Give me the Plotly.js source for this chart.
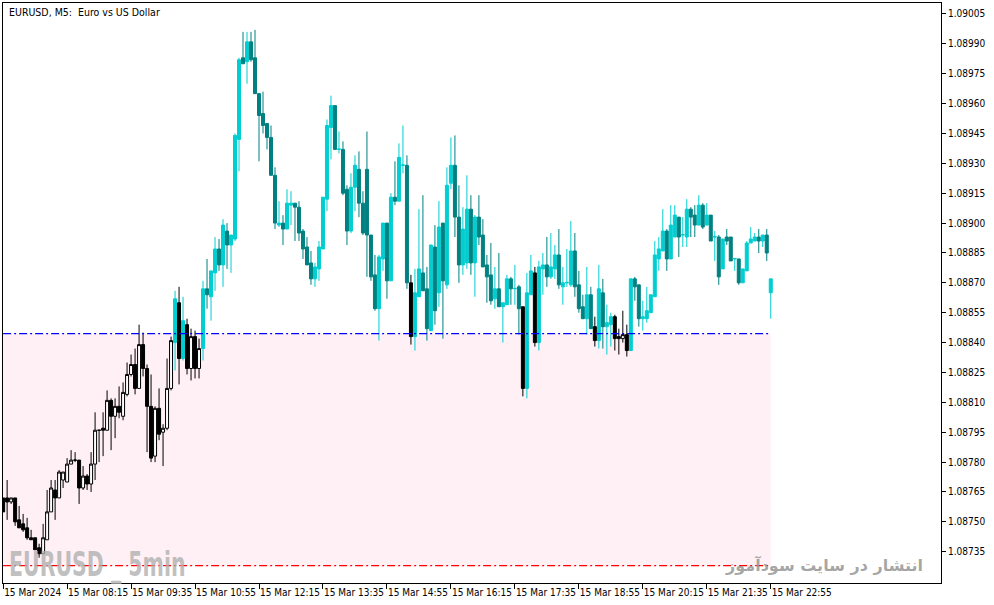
<!DOCTYPE html>
<html>
<head>
<meta charset="utf-8">
<script src="https://cdn.plot.ly/plotly-3.0.1.min.js"></script>
<style>
  html, body { margin: 0; padding: 0; background: #fff; }
  #chart { width: 994px; height: 605px; }
</style>
</head>
<body>
<div id="chart"></div>
<script>
// EURUSD M5 candles, 15 Mar 2024 06:55 .. 22:55 (one bar every 5 minutes)
const START_TIME = "2024-03-15T06:55:00Z";
const BAR_MINUTES = 5;

const open = [
	1.08762, 1.08762, 1.08760, 1.08762, 1.08751, 1.08749, 1.08747, 1.08742, 1.08742, 1.08737,
	1.08734, 1.08741, 1.08755, 1.08766, 1.08762, 1.08771, 1.08770, 1.08779, 1.08781, 1.08781,
	1.08767, 1.08773, 1.08769, 1.08779, 1.08796, 1.08797, 1.08796, 1.08811, 1.08803, 1.08808,
	1.08803, 1.08814, 1.08824, 1.08829, 1.08817, 1.08839, 1.08827, 1.08808, 1.08783, 1.08807,
	1.08795, 1.08797, 1.08817, 1.08840, 1.08860, 1.08832, 1.08849, 1.08827, 1.08843, 1.08827,
	1.08837, 1.08867, 1.08863, 1.08875, 1.08887, 1.08879, 1.08896, 1.08889, 1.08892, 1.08942,
	1.08983, 1.08981, 1.08991, 1.08983, 1.08965, 1.08955, 1.08950, 1.08943, 1.08924, 1.08899,
	1.08900, 1.08897, 1.08909, 1.08910, 1.08908, 1.08896, 1.08888, 1.08880, 1.08872, 1.08877,
	1.08887, 1.08912, 1.08948, 1.08959, 1.08937, 1.08937, 1.08917, 1.08896, 1.08918, 1.08927,
	1.08910, 1.08927, 1.08894, 1.08874, 1.08857, 1.08882, 1.08900, 1.08871, 1.08913, 1.08911,
	1.08929, 1.08929, 1.08870, 1.08843, 1.08863, 1.08875, 1.08867, 1.08846, 1.08888, 1.08865,
	1.08900, 1.08869, 1.08920, 1.08929, 1.08903, 1.08879, 1.08880, 1.08907, 1.08880, 1.08903,
	1.08894, 1.08879, 1.08874, 1.08862, 1.08867, 1.08858, 1.08859, 1.08872, 1.08867, 1.08868,
	1.08858, 1.08817, 1.08864, 1.08875, 1.08840, 1.08877, 1.08879, 1.08873, 1.08877, 1.08884,
	1.08868, 1.08870, 1.08869, 1.08886, 1.08869, 1.08858, 1.08852, 1.08864, 1.08848, 1.08841,
	1.08865, 1.08848, 1.08849, 1.08853, 1.08843, 1.08842, 1.08844, 1.08836, 1.08872, 1.08869,
	1.08852, 1.08852, 1.08855, 1.08863, 1.08882, 1.08886, 1.08896, 1.08882, 1.08893, 1.08903,
	1.08894, 1.08893, 1.08907, 1.08904, 1.08899, 1.08909, 1.08899, 1.08904, 1.08893, 1.08893,
	1.08877, 1.08893, 1.08893, 1.08882, 1.08882, 1.08870, 1.08876, 1.08890, 1.08891, 1.08893,
	1.08891, 1.08894, 1.08865,
];
const high = [
	1.08762, 1.08771, 1.08762, 1.08762, 1.08758, 1.08754, 1.08752, 1.08746, 1.08742, 1.08739,
	1.08749, 1.08766, 1.08771, 1.08771, 1.08776, 1.08775, 1.08782, 1.08786, 1.08785, 1.08781,
	1.08778, 1.08774, 1.08785, 1.08805, 1.08796, 1.08805, 1.08816, 1.08812, 1.08812, 1.08818,
	1.08820, 1.08830, 1.08834, 1.08837, 1.08849, 1.08845, 1.08829, 1.08824, 1.08808, 1.08817,
	1.08799, 1.08832, 1.08843, 1.08866, 1.08868, 1.08863, 1.08852, 1.08847, 1.08846, 1.08842,
	1.08871, 1.08882, 1.08876, 1.08893, 1.08892, 1.08902, 1.08900, 1.08894, 1.08945, 1.08983,
	1.08996, 1.08996, 1.08996, 1.08997, 1.08965, 1.08966, 1.08950, 1.08949, 1.08928, 1.08911,
	1.08904, 1.08917, 1.08916, 1.08910, 1.08911, 1.08897, 1.08893, 1.08886, 1.08880, 1.08891,
	1.08913, 1.08952, 1.08964, 1.08959, 1.08946, 1.08941, 1.08919, 1.08925, 1.08934, 1.08936,
	1.08916, 1.08946, 1.08894, 1.08884, 1.08884, 1.08900, 1.08900, 1.08915, 1.08931, 1.08940,
	1.08949, 1.08934, 1.08874, 1.08877, 1.08907, 1.08914, 1.08878, 1.08889, 1.08899, 1.08911,
	1.08900, 1.08928, 1.08943, 1.08944, 1.08919, 1.08908, 1.08924, 1.08914, 1.08904, 1.08914,
	1.08902, 1.08884, 1.08890, 1.08878, 1.08885, 1.08860, 1.08874, 1.08873, 1.08879, 1.08869,
	1.08858, 1.08875, 1.08884, 1.08878, 1.08881, 1.08885, 1.08893, 1.08895, 1.08889, 1.08897,
	1.08878, 1.08887, 1.08901, 1.08895, 1.08876, 1.08864, 1.08878, 1.08868, 1.08853, 1.08879,
	1.08872, 1.08859, 1.08855, 1.08854, 1.08847, 1.08856, 1.08849, 1.08872, 1.08873, 1.08869,
	1.08861, 1.08868, 1.08864, 1.08891, 1.08893, 1.08907, 1.08897, 1.08909, 1.08909, 1.08903,
	1.08903, 1.08912, 1.08908, 1.08909, 1.08914, 1.08910, 1.08910, 1.08904, 1.08896, 1.08894,
	1.08892, 1.08897, 1.08893, 1.08882, 1.08882, 1.08877, 1.08891, 1.08898, 1.08895, 1.08897,
	1.08894, 1.08897, 1.08872,
];
const low = [
	1.08755, 1.08751, 1.08759, 1.08748, 1.08747, 1.08745, 1.08741, 1.08741, 1.08736, 1.08732,
	1.08734, 1.08741, 1.08755, 1.08751, 1.08762, 1.08767, 1.08770, 1.08779, 1.08780, 1.08759,
	1.08766, 1.08766, 1.08765, 1.08771, 1.08780, 1.08783, 1.08796, 1.08786, 1.08792, 1.08802,
	1.08801, 1.08813, 1.08823, 1.08814, 1.08817, 1.08823, 1.08785, 1.08780, 1.08780, 1.08791,
	1.08778, 1.08796, 1.08816, 1.08826, 1.08819, 1.08831, 1.08824, 1.08821, 1.08822, 1.08822,
	1.08831, 1.08857, 1.08851, 1.08866, 1.08876, 1.08868, 1.08877, 1.08875, 1.08891, 1.08926,
	1.08980, 1.08970, 1.08981, 1.08965, 1.08931, 1.08945, 1.08937, 1.08924, 1.08897, 1.08898,
	1.08889, 1.08897, 1.08899, 1.08891, 1.08891, 1.08882, 1.08879, 1.08869, 1.08868, 1.08871,
	1.08887, 1.08906, 1.08932, 1.08937, 1.08935, 1.08914, 1.08889, 1.08895, 1.08906, 1.08903,
	1.08894, 1.08873, 1.08871, 1.08856, 1.08841, 1.08876, 1.08862, 1.08871, 1.08909, 1.08911,
	1.08925, 1.08867, 1.08839, 1.08836, 1.08863, 1.08866, 1.08841, 1.08846, 1.08849, 1.08858,
	1.08842, 1.08867, 1.08917, 1.08893, 1.08870, 1.08874, 1.08877, 1.08874, 1.08863, 1.08889,
	1.08878, 1.08860, 1.08859, 1.08857, 1.08858, 1.08840, 1.08859, 1.08859, 1.08859, 1.08844,
	1.08813, 1.08812, 1.08864, 1.08838, 1.08836, 1.08864, 1.08868, 1.08872, 1.08872, 1.08867,
	1.08859, 1.08868, 1.08868, 1.08863, 1.08855, 1.08852, 1.08844, 1.08847, 1.08838, 1.08837,
	1.08837, 1.08834, 1.08838, 1.08836, 1.08834, 1.08840, 1.08833, 1.08836, 1.08861, 1.08848,
	1.08846, 1.08850, 1.08855, 1.08863, 1.08876, 1.08886, 1.08876, 1.08882, 1.08893, 1.08883,
	1.08888, 1.08888, 1.08893, 1.08893, 1.08899, 1.08897, 1.08899, 1.08891, 1.08881, 1.08869,
	1.08877, 1.08889, 1.08881, 1.08876, 1.08869, 1.08870, 1.08876, 1.08890, 1.08891, 1.08885,
	1.08888, 1.08881, 1.08852,
];
const close = [
	1.08755, 1.08760, 1.08762, 1.08750, 1.08747, 1.08746, 1.08742, 1.08741, 1.08736, 1.08734,
	1.08742, 1.08755, 1.08767, 1.08762, 1.08775, 1.08775, 1.08779, 1.08781, 1.08781, 1.08767,
	1.08773, 1.08769, 1.08779, 1.08796, 1.08796, 1.08796, 1.08811, 1.08803, 1.08808, 1.08805,
	1.08815, 1.08824, 1.08829, 1.08817, 1.08839, 1.08827, 1.08808, 1.08782, 1.08807, 1.08794,
	1.08797, 1.08817, 1.08841, 1.08862, 1.08832, 1.08851, 1.08827, 1.08843, 1.08827, 1.08837,
	1.08867, 1.08864, 1.08876, 1.08887, 1.08879, 1.08899, 1.08889, 1.08894, 1.08944, 1.08982,
	1.08980, 1.08991, 1.08982, 1.08965, 1.08954, 1.08949, 1.08943, 1.08924, 1.08900, 1.08900,
	1.08897, 1.08910, 1.08910, 1.08908, 1.08895, 1.08887, 1.08879, 1.08872, 1.08878, 1.08888,
	1.08913, 1.08949, 1.08959, 1.08937, 1.089372, 1.08915, 1.08896, 1.08918, 1.08929, 1.08910,
	1.08895, 1.08894, 1.08873, 1.08857, 1.08883, 1.08900, 1.08871, 1.08913, 1.08911, 1.08933,
	1.089292, 1.08870, 1.08843, 1.08865, 1.08877, 1.08866, 1.08847, 1.08889, 1.08856, 1.08898,
	1.08871, 1.08919, 1.08929, 1.08903, 1.08879, 1.08897, 1.08907, 1.08880, 1.08903, 1.08893,
	1.08878, 1.08873, 1.08861, 1.08867, 1.08858, 1.08860, 1.08872, 1.08867, 1.088672, 1.08857,
	1.08817, 1.08865, 1.08876, 1.08840, 1.08878, 1.08879, 1.08873, 1.08878, 1.08884, 1.08869,
	1.08870, 1.088702, 1.08886, 1.08868, 1.08857, 1.08852, 1.08864, 1.08847, 1.08841, 1.08867,
	1.08848, 1.08850, 1.08853, 1.08842, 1.08842, 1.08844, 1.08836, 1.08872, 1.08868, 1.08852,
	1.08853, 1.08856, 1.08864, 1.08884, 1.08887, 1.08896, 1.08882, 1.08899, 1.08904, 1.08893,
	1.088942, 1.08907, 1.08903, 1.08899, 1.08909, 1.08898, 1.08904, 1.08891, 1.088932, 1.08873,
	1.08892, 1.08891, 1.08881, 1.088822, 1.08870, 1.08877, 1.08890, 1.08892, 1.08893, 1.08891,
	1.08894, 1.08885, 1.08872,
];

// levels drawn by the zone indicator
const ZONE_HIGH = 1.088445;
const ZONE_LOW = 1.08728;

const priceTicks = [
	1.08735, 1.0875, 1.08765, 1.0878, 1.08795, 1.0881, 1.08825, 1.0884, 1.08855, 1.0887,
	1.08885, 1.089, 1.08915, 1.0893, 1.08945, 1.0896, 1.08975, 1.0899, 1.09005,
];

const tickTimes = [
	"2024-03-15 06:55", "2024-03-15 08:15", "2024-03-15 09:35", "2024-03-15 10:55",
	"2024-03-15 12:15", "2024-03-15 13:35", "2024-03-15 14:55", "2024-03-15 16:15",
	"2024-03-15 17:35", "2024-03-15 18:55", "2024-03-15 20:15", "2024-03-15 21:35",
	"2024-03-15 22:55",
];
const tickLabels = [
	"15 Mar 2024", "15 Mar 08:15", "15 Mar 09:35", "15 Mar 10:55",
	"15 Mar 12:15", "15 Mar 13:35", "15 Mar 14:55", "15 Mar 16:15",
	"15 Mar 17:35", "15 Mar 18:55", "15 Mar 20:15", "15 Mar 21:35",
	"15 Mar 22:55",
];

const FONT = "Tahoma, 'DejaVu Sans Condensed', 'Liberation Sans', sans-serif";

const startMs = Date.parse(START_TIME);
const times = open.map((_, i) =>
	new Date(startMs + i * BAR_MINUTES * 60000).toISOString().slice(0, 19).replace("T", " "),
);

function pick(idx) {
	return {
		x: idx.map(i => times[i]),
		open: idx.map(i => open[i]),
		high: idx.map(i => high[i]),
		low: idx.map(i => low[i]),
		close: idx.map(i => close[i]),
	};
}

// bars closing inside the zone are drawn black & white, the rest in colour
const above = [];
const inside = [];
close.forEach((c, i) => (c >= ZONE_HIGH ? above : inside).push(i));

const candleBase = {
	type: "candlestick",
	line: { width: 1 },
	whiskerwidth: 0,
	hoverinfo: "skip",
	showlegend: false,
};

const data = [
	{
		...candleBase,
		...pick(above),
		increasing: { line: { color: "#00CED1", width: 1 }, fillcolor: "#00CED1" },
		decreasing: { line: { color: "#008080", width: 1 }, fillcolor: "#008080" },
	},
	{
		...candleBase,
		...pick(inside),
		increasing: { line: { color: "#000000", width: 1 }, fillcolor: "#FFFFFF" },
		decreasing: { line: { color: "#000000", width: 1 }, fillcolor: "#000000" },
	},
];

const first = times[0];
const last = times[times.length - 1];
const dashDot = "8px,3px,2px,3px";

const layout = {
	width: 994,
	height: 605,
	margin: { l: 3, r: 53, t: 3, b: 22 },
	paper_bgcolor: "#ffffff",
	plot_bgcolor: "#ffffff",
	hovermode: false,
	showlegend: false,
	boxgap: 0.12,
	boxgroupgap: 0.15,
	font: { family: FONT, size: 10, color: "#000" },
	xaxis: {
		type: "date",
		range: ["2024-03-15 06:54:50", "2024-03-16 02:27:55"],
		rangeslider: { visible: false },
		showgrid: false,
		zeroline: false,
		showline: true,
		mirror: true,
		linecolor: "#000",
		linewidth: 1,
		ticks: "outside",
		ticklen: 5,
		tickcolor: "#000",
		tickmode: "array",
		tickvals: tickTimes,
		ticktext: tickLabels,
		tickangle: 0,
		ticklabelposition: "outside right",
		tickfont: { family: FONT, size: 10, color: "#000" },
		fixedrange: true,
	},
	yaxis: {
		side: "right",
		range: [1.087193, 1.090105],
		showgrid: false,
		zeroline: false,
		showline: true,
		mirror: true,
		linecolor: "#000",
		linewidth: 1,
		ticks: "outside",
		ticklen: 4,
		tickcolor: "#000",
		tickmode: "array",
		tickvals: priceTicks,
		tickformat: ".5f",
		tickfont: { family: FONT, size: 10, color: "#000" },
		fixedrange: true,
	},
	shapes: [
		{
			type: "rect", xref: "x", yref: "y", layer: "below",
			x0: first, x1: last, y0: ZONE_LOW, y1: ZONE_HIGH,
			fillcolor: "#FFF0F5", line: { width: 0 },
		},
		{
			type: "line", xref: "x", yref: "y",
			x0: first, x1: last, y0: ZONE_HIGH, y1: ZONE_HIGH,
			line: { color: "#0000FF", width: 1.3, dash: dashDot },
		},
		{
			type: "line", xref: "x", yref: "y",
			x0: first, x1: last, y0: ZONE_LOW, y1: ZONE_LOW,
			line: { color: "#FF0000", width: 1.3, dash: dashDot },
		},
	],
	annotations: [
		{
			text: "EURUSD, M5:\u00a0 Euro vs US Dollar",
			xref: "paper", yref: "paper", x: 0, y: 1,
			xanchor: "left", yanchor: "top", xshift: 4, yshift: -1,
			showarrow: false,
			font: { family: FONT, size: 10.5, color: "#000" },
		},
		{
			text: "<b>EURUSD _ 5min</b>",
			xref: "paper", yref: "paper", x: 0, y: 0,
			xanchor: "left", yanchor: "bottom", xshift: 4, yshift: -3,
			showarrow: false,
			font: { family: "'Liberation Sans Narrow', 'DejaVu Sans Condensed', sans-serif", size: 33, color: "rgba(175,175,175,0.8)" },
		},
		{
			text: "<b>انتشار در سایت سودآموز</b>",
			xref: "paper", yref: "paper", x: 0.983, y: 0.031,
			xanchor: "right", yanchor: "middle",
			showarrow: false,
			font: { family: "'DejaVu Sans', sans-serif", size: 16, color: "rgba(150,150,150,0.85)" },
		},
	],
};

Plotly.newPlot("chart", data, layout, { displayModeBar: false, staticPlot: true }).then(gd => {
	// squeeze the big symbol watermark horizontally like the terminal's narrow font
	const wm = gd.querySelectorAll(".annotation-text")[1];
	if (wm) {
		wm.style.transformBox = "fill-box";
		wm.style.transformOrigin = "left center";
		wm.style.transform = "scaleX(0.69)";
	}
});
</script>
</body>
</html>
